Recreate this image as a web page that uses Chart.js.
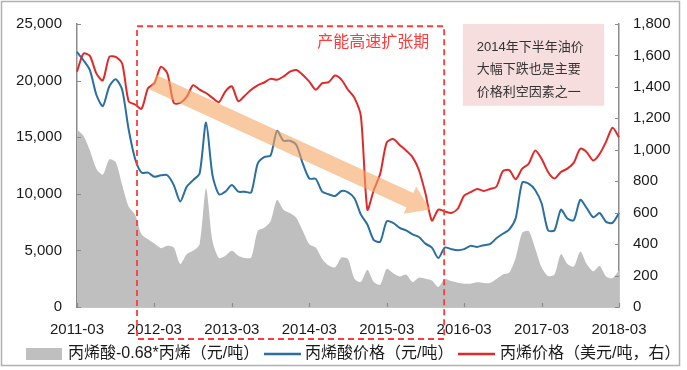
<!DOCTYPE html>
<html>
<head>
<meta charset="utf-8">
<script src="https://cdn.jsdelivr.net/npm/chart.js@4.4.1/dist/chart.umd.min.js"></script>
<style>
  html, body { margin: 0; padding: 0; background: #fff; }
  #wrap { width: 687px; height: 370px; }
</style>
</head>
<body>
<div id="wrap"><canvas id="acrylicChart" width="687" height="370"></canvas></div>
<script>
// monthly, 2011-03 .. 2018-03
var months = [];
for (var i = 0; i <= 84; i++) {
  var yr = 2011 + Math.floor((i + 2) / 12);
  var mo = (i + 2) % 12 + 1;
  months.push(yr + '-' + String(mo).padStart(2, '0'));
}

// 丙烯酸-0.68*丙烯（元/吨）
var spread = [
  15650, 15130, 13820, 12220, 11700, 13040, 12800, 10770, 8880, 8160, 6420, 5980,
  5600, 5200, 5400, 5250, 3800, 4670, 4960, 5550, 10480, 5840, 4330, 4530,
  4960, 4530, 4330, 4380, 6700, 6990, 7580, 9470, 8600, 8300, 7870, 6710,
  5550, 5250, 4240, 3660, 3510, 4380, 4240, 2500, 2210, 3280, 2210, 1970,
  3370, 2990, 2700, 2870, 2210, 2590, 2500, 2350, 1770, 2470, 2290, 2150,
  2060, 2060, 2180, 2120, 2120, 2470, 2870, 3050, 4380, 6560, 6710, 5200,
  3510, 2730, 2870, 4670, 3800, 3570, 4910, 3800, 3160, 3630, 2700, 2550,
  3220
];
// 丙烯酸价格（元/吨）
var acidPrice = [
  22530, 21800, 20930, 18750, 17740, 19480, 20120, 19190, 15700, 13100, 11870, 11870,
  11500, 11640, 11640, 10770, 9320, 10630, 11210, 11790, 16290, 11640, 9960, 10190,
  10770, 10190, 10190, 10130, 12660, 13240, 13380, 15560, 14690, 14690, 14310, 12660,
  11350, 11320, 10190, 9960, 9810, 10250, 10130, 9610, 8160, 7290, 5900, 5780,
  7580, 7430, 6990, 6770, 6420, 6180, 5600, 5250, 4330, 5250, 5110, 5020,
  5110, 5400, 5310, 5460, 5550, 6070, 6470, 6850, 7870, 11000, 10900, 10340,
  9170, 6770, 6770, 8600, 7810, 7660, 9470, 8740, 7930, 8300, 7520, 7430,
  8300
];
// 丙烯价格（美元/吨，右）
var propylenePrice = [
  1497, 1612, 1597, 1486, 1441, 1591, 1591, 1549, 1309, 1288, 1261, 1391,
  1424, 1528, 1486, 1298, 1298, 1336, 1411, 1382, 1361, 1330, 1303, 1372,
  1403, 1309, 1344, 1382, 1410, 1428, 1451, 1445, 1466, 1497, 1507, 1476,
  1434, 1382, 1424, 1430, 1472, 1445, 1382, 1330, 1213, 620, 744, 849,
  1047, 1068, 1031, 995, 953, 870, 723, 550, 619, 608, 598, 625,
  709, 730, 751, 738, 751, 765, 864, 870, 813, 880, 911, 995,
  943, 859, 817, 859, 880, 918, 1006, 985, 932, 974, 1052, 1140,
  1079
];

var leftTicks = [0, 5000, 10000, 15000, 20000, 25000];
var rightTicks = [0, 200, 400, 600, 800, 1000, 1200, 1400, 1600, 1800];
var legendLabels = ['丙烯酸-0.68*丙烯（元/吨）', '丙烯酸价格（元/吨）', '丙烯价格（美元/吨，右）'];
var noteLines = ['2014年下半年油价', '大幅下跌也是主要', '价格利空因素之一'];

// annotation anchors in data units (month index / axis values)
var expansionSpan = [9.3, 56.9];
var noteSpan = [59.8, 81.7];
var arrowFrom = [11.8, 19860];
var arrowTo = [54.7, 8620];

var GRAY = '#bfbfbf', BLUE = '#2a6f9f', RED = '#e02a2a';
var tickFont = { family: '"Liberation Sans", Arial', size: 15 };
var cjk = '"Liberation Sans", "Noto Sans CJK SC", sans-serif';

const overlays = {
  id: 'overlays',
  afterDatasetsDraw(chart) {
    const { ctx, chartArea: area, scales: { x, y, y1 } } = chart;
    ctx.save();

    // dashed box: 产能高速扩张期
    var bx0 = x.getPixelForValue(expansionSpan[0]);
    var bx1 = x.getPixelForValue(expansionSpan[1]);
    var by0 = y.getPixelForValue(24800);
    var by1 = area.bottom + 32;
    ctx.strokeStyle = '#ff3b3b';
    ctx.lineWidth = 1.8;
    ctx.setLineDash([6, 4]);
    ctx.strokeRect(bx0, by0, bx1 - bx0, by1 - by0);
    ctx.setLineDash([]);
    ctx.fillStyle = '#ff3b3b';
    ctx.font = '16px ' + cjk;
    ctx.textAlign = 'right';
    ctx.textBaseline = 'middle';
    ctx.fillText('产能高速扩张期', bx1 - 15, by0 + 16);

    // note box
    var nx0 = x.getPixelForValue(noteSpan[0]);
    var nx1 = x.getPixelForValue(noteSpan[1]);
    var ny0 = y1.getPixelForValue(1800);
    var ny1 = y1.getPixelForValue(1280);
    ctx.fillStyle = '#f5dedd';
    ctx.fillRect(nx0, ny0, nx1 - nx0, ny1 - ny0);
    ctx.fillStyle = '#333';
    ctx.font = '13px ' + cjk;
    ctx.textAlign = 'left';
    noteLines.forEach((t, k) => ctx.fillText(t, nx0 + 14, ny0 + 23 + k * 22.5));

    // orange trend arrow
    var p0 = [x.getPixelForValue(arrowFrom[0]), y.getPixelForValue(arrowFrom[1])];
    var p1 = [x.getPixelForValue(arrowTo[0]), y.getPixelForValue(arrowTo[1])];
    var dx = p1[0] - p0[0], dy = p1[1] - p0[1];
    var len = Math.sqrt(dx * dx + dy * dy);
    var ux = dx / len, uy = dy / len, nx = -uy, ny = ux;
    var hw = 8, hh = 15, hl = 22;
    var hb = [p1[0] - ux * hl, p1[1] - uy * hl];
    ctx.fillStyle = 'rgba(245, 165, 100, 0.6)';
    ctx.beginPath();
    ctx.moveTo(p0[0] + nx * hw, p0[1] + ny * hw);
    ctx.lineTo(hb[0] + nx * hw, hb[1] + ny * hw);
    ctx.lineTo(hb[0] + nx * hh, hb[1] + ny * hh);
    ctx.lineTo(p1[0], p1[1]);
    ctx.lineTo(hb[0] - nx * hh, hb[1] - ny * hh);
    ctx.lineTo(hb[0] - nx * hw, hb[1] - ny * hw);
    ctx.lineTo(p0[0] - nx * hw, p0[1] - ny * hw);
    ctx.closePath();
    ctx.fill();
    ctx.restore();
  },
  afterDraw(chart) {
    const { ctx, chartArea: area, scales: { x, y, y1 } } = chart;
    ctx.save();
    // inner tick marks
    ctx.strokeStyle = '#8c8c8c';
    ctx.lineWidth = 1.2;
    ctx.beginPath();
    leftTicks.forEach(v => {
      var py = Math.round(y.getPixelForValue(v)) + 0.5;
      ctx.moveTo(area.left, py); ctx.lineTo(area.left + 4, py);
    });
    rightTicks.forEach(v => {
      var py = Math.round(y1.getPixelForValue(v)) + 0.5;
      ctx.moveTo(area.right, py); ctx.lineTo(area.right - 4, py);
    });
    months.forEach((m, i) => {
      if (m.endsWith('-03')) {
        var px = Math.round(x.getPixelForValue(i)) + 0.5;
        ctx.moveTo(px, area.bottom); ctx.lineTo(px, area.bottom - 4);
      }
    });
    ctx.stroke();

    // legend: swatch start, text start
    var ly = 354;
    var items = [[26, 68], [264, 305], [458, 500]];
    ctx.font = '16px ' + cjk;
    ctx.textBaseline = 'middle';
    ctx.textAlign = 'left';
    ctx.fillStyle = GRAY;
    ctx.fillRect(items[0][0], ly - 6, 36, 12);
    [BLUE, RED].forEach((c, k) => {
      ctx.strokeStyle = c;
      ctx.lineWidth = 2.5;
      ctx.beginPath();
      ctx.moveTo(items[k + 1][0], ly); ctx.lineTo(items[k + 1][0] + 37, ly);
      ctx.stroke();
    });
    ctx.fillStyle = '#1a1a1a';
    legendLabels.forEach((t, k) => ctx.fillText(t, items[k][1], ly));

    // outer frame
    ctx.strokeStyle = '#b0b0b0';
    ctx.lineWidth = 1.5;
    ctx.strokeRect(1.5, 1.5, 678, 364);
    ctx.restore();
  }
};

var ctx = document.getElementById('acrylicChart').getContext('2d');
var acrylicChart = new Chart(ctx, {
  type: 'line',
  data: {
    labels: months,
    datasets: [{
      label: legendLabels[2],
      data: propylenePrice,
      yAxisID: 'y1',
      borderColor: RED,
      borderWidth: 2,
      pointRadius: 0,
      tension: 0.25,
      fill: false,
      order: 1
    }, {
      label: legendLabels[1],
      data: acidPrice,
      yAxisID: 'y',
      borderColor: BLUE,
      borderWidth: 2,
      pointRadius: 0,
      tension: 0.25,
      fill: false,
      order: 2
    }, {
      label: legendLabels[0],
      data: spread,
      yAxisID: 'y',
      borderWidth: 0,
      borderColor: GRAY,
      backgroundColor: GRAY,
      pointRadius: 0,
      tension: 0.25,
      fill: 'origin',
      order: 3
    }]
  },
  options: {
    responsive: false,
    animation: false,
    layout: { padding: { top: 20, left: 0, right: 0, bottom: 0 } },
    plugins: {
      legend: { display: false },
      tooltip: { enabled: false }
    },
    scales: {
      x: {
        type: 'category',
        offset: false,
        grid: { display: false, drawTicks: false },
        border: { display: true, color: '#8c8c8c', width: 1.5 },
        ticks: {
          autoSkip: false,
          maxRotation: 0,
          padding: 14,
          font: tickFont,
          color: '#1a1a1a',
          callback: (v, i) => months[i].endsWith('-03') ? months[i] : ''
        },
        afterFit: s => { s.height = 63; }
      },
      y: {
        position: 'left',
        min: 0,
        max: 25000,
        grid: { display: false, drawTicks: false },
        border: { display: true, color: '#8c8c8c', width: 1.5 },
        afterBuildTicks: s => { s.ticks = leftTicks.map(v => ({ value: v })); },
        ticks: {
          padding: 15,
          font: tickFont,
          color: '#1a1a1a',
          callback: v => v.toLocaleString('en-US')
        },
        afterFit: s => { s.width = 77; }
      },
      y1: {
        position: 'right',
        min: 0,
        max: 1800,
        grid: { display: false, drawTicks: false },
        border: { display: true, color: '#8c8c8c', width: 1.5 },
        afterBuildTicks: s => { s.ticks = rightTicks.map(v => ({ value: v })); },
        ticks: {
          padding: 14,
          font: tickFont,
          color: '#1a1a1a',
          callback: v => v.toLocaleString('en-US')
        },
        afterFit: s => { s.width = 68; }
      }
    }
  },
  plugins: [overlays]
});
</script>
</body>
</html>
